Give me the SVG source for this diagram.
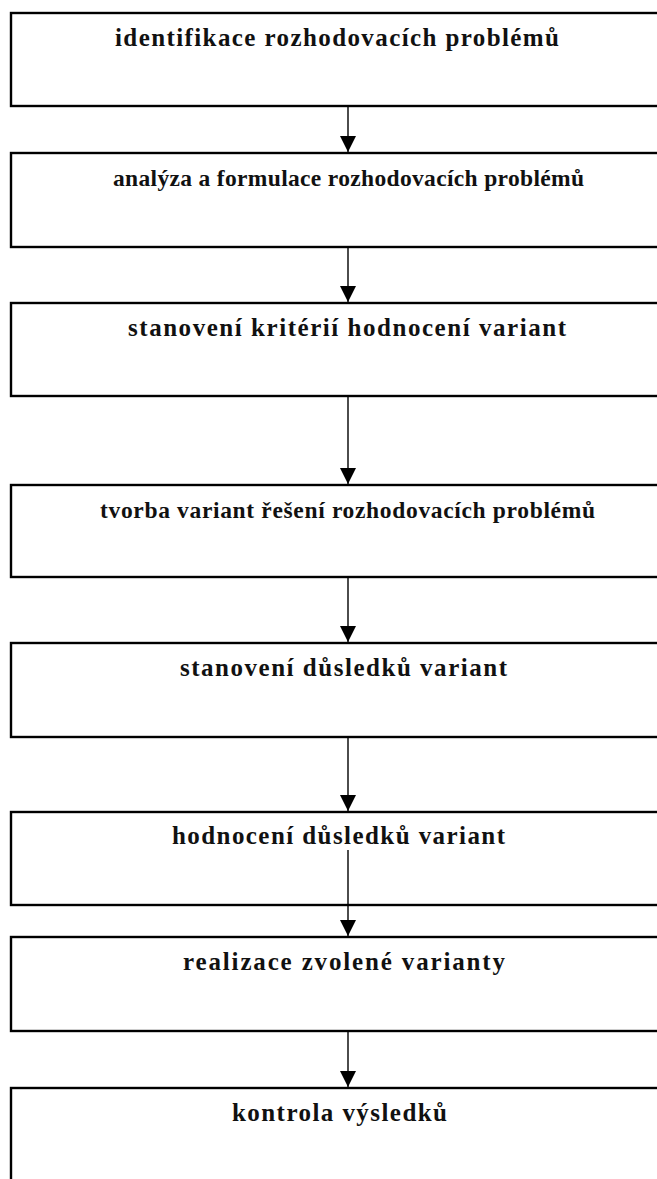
<svg xmlns="http://www.w3.org/2000/svg" width="657" height="1179" viewBox="0 0 657 1179">
  <style>
    .box { fill: #ffffff; stroke: #000000; stroke-width: 2.4; }
    .label { font-family: "Liberation Serif", "Times New Roman", serif; font-weight: bold; font-size: 25px; fill: #111111; text-anchor: middle; }
    .small { font-size: 23.5px; }
    .flow { stroke: #000000; stroke-width: 1.4; fill: none; marker-end: url(#head); }
  </style>
  <defs>
    <marker id="head" markerUnits="userSpaceOnUse" markerWidth="16" markerHeight="16" refX="16" refY="8" orient="auto">
      <path d="M0,0 L16,8 L0,16 Z" fill="#000000"/>
    </marker>
  </defs>
  <rect width="657" height="1179" fill="#ffffff"/>

  <g id="n1"><rect class="box" x="11" y="13" width="700" height="93"/><text class="label" x="337" y="46" textLength="444">identifikace rozhodovacích problémů</text></g>
  <g id="n2"><rect class="box" x="11" y="153" width="700" height="94"/><text class="label small" x="348.5" y="186" textLength="471">analýza a formulace rozhodovacích problémů</text></g>
  <g id="n3"><rect class="box" x="11" y="303" width="700" height="93"/><text class="label" x="347" y="336" textLength="438">stanovení kritérií hodnocení variant</text></g>
  <g id="n4"><rect class="box" x="11" y="485" width="700" height="92"/><text class="label small" x="347.5" y="518" textLength="495">tvorba variant řešení rozhodovacích problémů</text></g>
  <g id="n5"><rect class="box" x="11" y="643" width="700" height="94"/><text class="label" x="343.5" y="676" textLength="327">stanovení důsledků variant</text></g>
  <g id="n6"><rect class="box" x="11" y="812" width="700" height="93"/><text class="label" x="338.5" y="844" textLength="333">hodnocení důsledků variant</text></g>
  <g id="n7"><rect class="box" x="11" y="937" width="700" height="94"/><text class="label" x="344" y="970" textLength="322">realizace zvolené varianty</text></g>
  <g id="n8"><rect class="box" x="11" y="1088" width="700" height="100"/><text class="label" x="339.5" y="1121" textLength="215">kontrola výsledků</text></g>

  <g id="connectors">
    <line class="flow" x1="348" y1="106" x2="348" y2="152"/>
    <line class="flow" x1="348" y1="247" x2="348" y2="302"/>
    <line class="flow" x1="348" y1="396" x2="348" y2="484"/>
    <line class="flow" x1="348" y1="577" x2="348" y2="642"/>
    <line class="flow" x1="348" y1="737" x2="348" y2="811"/>
    <line class="flow" x1="348" y1="850" x2="348" y2="936"/>
    <line class="flow" x1="348" y1="1031" x2="348" y2="1087"/>
  </g>
</svg>
